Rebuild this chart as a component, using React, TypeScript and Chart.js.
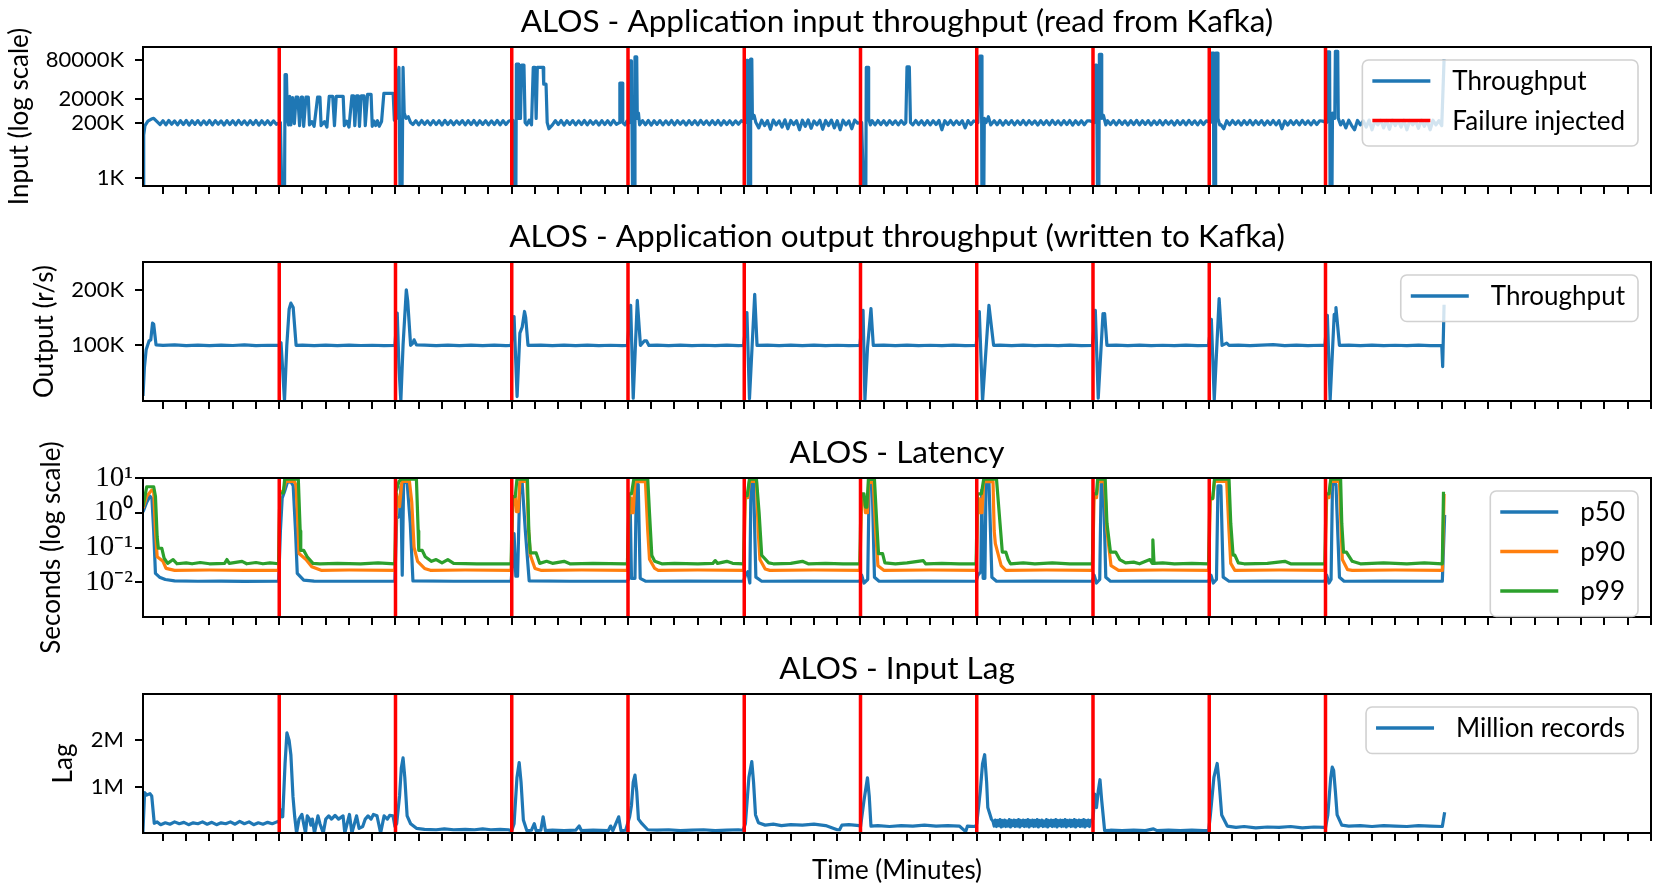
import React, { useEffect, useRef } from 'react';
import { Chart, registerables } from 'chart.js';

Chart.register(...registerables);
Chart.defaults.color = '#000';
Chart.defaults.font.family = 'Lato';

type Pt = [number, number];
interface BandSeg { start: number; step: number; values: number[]; }

// ---------------- data ----------------
const FAILURE_TIMES = [10, 20, 30, 40, 50, 60, 70, 80, 90, 100];
const X_TICKS = [0, 2, 4, 6, 8, 10, 12, 14, 16, 18, 20, 22, 24, 26, 28, 30, 32, 34, 36, 38, 40, 42, 44, 46, 48, 50, 52, 54, 56, 58, 60, 62, 64, 66, 68, 70, 72, 74, 76, 78, 80, 82, 84, 86, 88, 90, 92, 94, 96, 98, 100, 102, 104, 106, 108, 110, 112, 114, 116, 118, 120, 122, 124, 126, 128];

const INPUT_TICKS = [1, 200, 2000, 80000];
const INPUT_TICK_LABELS = ['1K', '200K', '2000K', '80000K'];
const OUTPUT_TICKS = [100, 200];
const OUTPUT_TICK_LABELS = ['100K', '200K'];
const LAT_TICKS = [0.01, 0.1, 1, 10];
const LAT_TICK_LABELS = ['10\u207B\u00B2', '10\u207B\u00B9', '10\u2070', '10\u00B9'];
const LAG_TICKS = [1, 2];
const LAG_TICK_LABELS = ['1M', '2M'];

// input throughput (thousands of records/s): recovery events after failures
const INPUT_EVENTS_K: Pt[] = [
  [-1.72, 0.05], [-1.66, 60], [-1.55, 150], [-1.3, 230], [-1.0, 280], [-0.8, 300], [-0.6, 240],
  [10.1, 200], [10.25, 0.05], [10.45, 0.05], [10.5, 20000], [10.62, 20000], [10.7, 300], [10.8, 160], [10.9, 2500], [11.0, 160], [11.15, 2200], [11.3, 180], [11.45, 2300], [11.6, 2300], [11.75, 150], [11.9, 2300], [12.0, 2300], [12.1, 140], [12.3, 2300], [12.5, 2300], [12.6, 160], [12.8, 220], [13.0, 140], [13.3, 2300], [13.5, 2300], [13.6, 150], [13.9, 220], [14.1, 130], [14.3, 2500], [14.6, 2500], [14.75, 150], [14.9, 2500], [15.5, 2500], [15.6, 150], [15.8, 230], [16.0, 130], [16.25, 2600], [16.4, 2600], [16.5, 150], [16.65, 2600], [16.8, 2600], [16.9, 140], [17.05, 2600], [17.3, 2600], [17.4, 150], [17.6, 3000], [17.9, 3000], [18.0, 140], [18.15, 230], [18.3, 150], [18.45, 240], [18.6, 140], [18.8, 220], [19.0, 3300], [19.8, 3300], [19.9, 250],
  [20.1, 300], [20.2, 20000], [20.3, 40000], [20.4, 0.05], [20.55, 0.05], [20.65, 40000], [20.75, 500], [20.9, 300], [21.1, 350], [21.3, 200],
  [30.1, 250], [30.2, 0.05], [30.35, 0.05], [30.4, 55000], [30.55, 55000], [30.6, 300], [30.75, 300], [30.85, 50000], [31.05, 50000], [31.15, 200], [31.3, 160], [31.5, 250], [31.7, 160], [31.85, 40000], [32.0, 40000], [32.1, 300], [32.2, 40000], [32.7, 40000], [32.75, 8000], [32.95, 8000], [33.05, 200], [33.2, 110],
  [39.25, 200], [39.3, 9000], [39.5, 9000], [39.55, 200], [39.75, 160], [39.9, 230],
  [40.1, 200], [40.15, 75000], [40.3, 75000], [40.4, 0.05], [40.55, 0.05], [40.6, 110000], [40.75, 110000], [40.8, 300], [40.9, 500], [41.0, 160],
  [50.1, 200], [50.2, 80000], [50.3, 80000], [50.35, 0.05], [50.5, 0.05], [50.55, 90000], [50.65, 90000], [50.7, 300], [50.85, 400], [51.0, 200],
  [60.1, 200], [60.3, 0.05], [60.45, 0.05], [60.5, 40000], [60.65, 40000], [60.7, 300], [60.85, 160],
  [63.9, 200], [64.0, 42000], [64.2, 42000], [64.3, 200],
  [70.1, 200], [70.25, 120000], [70.4, 120000], [70.45, 0.05], [70.6, 0.05], [70.65, 300], [70.8, 200], [71.0, 350], [71.2, 160],
  [80.1, 200], [80.2, 50000], [80.3, 50000], [80.4, 0.05], [80.5, 0.05], [80.55, 140000], [80.7, 140000], [80.75, 300], [80.9, 400], [81.1, 160],
  [90.1, 200], [90.2, 160000], [90.35, 160000], [90.4, 0.05], [90.5, 0.05], [90.55, 160000], [90.7, 160000], [90.75, 300], [90.9, 160],
  [100.1, 200], [100.15, 180000], [100.35, 180000], [100.4, 0.05], [100.55, 0.05], [100.6, 500], [100.8, 300], [100.85, 190000], [101.05, 190000], [101.1, 300], [101.3, 160],
  [110.2, 87000],
];
// input throughput (thousands of records/s): steady-state stretches, one reading every 0.25 min
const INPUT_STEADY_K: BandSeg[] = [
  { start: -0.25, step: 0.25, values: [165, 240, 160, 245, 170, 235, 160, 240, 165, 245, 158, 238, 168, 242, 160, 236, 165, 244, 160, 240, 170, 235, 158, 242, 165, 240, 160, 246, 168, 236, 160, 240, 165, 244, 158, 238, 166, 240, 162, 236, 170] },
  { start: 21.5, step: 0.25, values: [165, 240, 160, 244, 168, 236, 160, 242, 165, 238, 158, 245, 166, 240, 162, 236, 170, 242, 160, 240, 165, 244, 158, 238, 168, 240, 160, 236, 165, 245, 160, 240, 166, 232] },
  { start: 33.5, step: 0.25, values: [160, 240, 165, 244, 158, 238, 168, 242, 160, 236, 165, 244, 160, 240, 170, 235, 158, 242, 165, 240, 160, 246, 168] },
  { start: 41.25, step: 0.25, values: [240, 162, 244, 158, 238, 168, 242, 160, 236, 165, 244, 160, 240, 170, 235, 158, 242, 165, 240, 160, 246, 168, 236, 160, 240, 165, 244, 158, 238, 166, 240, 162, 236, 170, 240] },
  { start: 51.25, step: 0.25, values: [120, 250, 150, 240, 105, 255, 160, 235, 130, 260, 110, 245, 165, 240, 100, 250, 140, 260, 115, 235, 160, 250, 105, 245, 150, 255, 120, 240, 100, 250, 160, 235, 110, 255, 190] },
  { start: 61.0, step: 0.25, values: [240, 160, 244, 165, 238, 158, 242, 168, 236, 160, 240, 170] },
  { start: 64.5, step: 0.25, values: [160, 244, 165, 238, 158, 242, 160, 238, 165, 244, 100, 240, 165, 244, 160, 236, 168, 240, 120, 242, 165, 236] },
  { start: 71.5, step: 0.25, values: [240, 162, 244, 158, 238, 168, 242, 160, 236, 165, 244, 160, 240, 170, 235, 158, 242, 165, 240, 160, 246, 168, 236, 160, 240, 165, 244, 158, 238, 166, 240, 162, 236, 235] },
  { start: 81.25, step: 0.25, values: [238, 165, 242, 160, 244, 168, 236, 158, 240, 165, 246, 160, 238, 168, 242, 158, 236, 165, 244, 160, 240, 170, 235, 158, 242, 165, 240, 160, 246, 168, 236, 160, 240, 165, 238] },
  { start: 91.0, step: 0.25, values: [165, 110, 240, 160, 244, 168, 236, 158, 240, 165, 246, 160, 238, 168, 242, 158, 236, 165, 244, 160, 240, 110, 235, 158, 242, 165, 240, 160, 246, 168, 236, 160, 240, 165, 238, 230] },
  { start: 101.5, step: 0.25, values: [240, 120, 250, 150, 100, 245, 160, 235, 130, 255, 100, 240, 160, 250, 120, 245, 105, 255, 150, 240, 130, 250, 100, 245, 160, 235, 115, 255, 140, 240, 100, 250, 160, 240, 150] },
];

// output throughput, thousands of records/s
const OUTPUT_K: Pt[] = [
  [-1.72, 9], [-1.6, 60], [-1.45, 92], [-1.2, 108], [-1.05, 110], [-0.9, 140], [-0.8, 138], [-0.6, 101], [0, 100], [1, 100.8], [2, 99.5], [3, 100.5], [4, 99.6], [5, 100.4], [6, 99.8], [7, 100.9], [8, 99.5], [9, 100.3], [9.95, 100],
  [10.15, 105], [10.3, 55], [10.45, 0], [10.65, 100], [10.85, 165], [11.0, 176], [11.2, 168], [11.45, 100], [12, 100.5], [13, 99.6], [14, 100.4], [15, 99.5], [16, 100.6], [17, 99.8], [18, 100.3], [19, 99.6], [19.95, 100.2],
  [20.15, 158], [20.3, 60], [20.46, 0], [20.65, 100], [20.93, 200], [21.05, 180], [21.3, 100], [21.5, 104], [21.6, 110], [21.8, 101], [22.5, 100.6], [23.5, 99.6], [24.5, 100.4], [25.5, 99.5], [26.5, 100.5], [27.5, 99.7], [28.5, 100.4], [29.5, 99.6], [29.95, 100],
  [30.2, 152], [30.46, 8], [30.7, 122], [30.9, 133], [31.1, 161], [31.2, 150], [31.4, 100], [32.5, 100.5], [33.5, 99.6], [34.5, 100.4], [35.5, 99.7], [36.5, 100.6], [37.5, 99.5], [38.5, 100.3], [39.5, 99.7], [39.95, 100],
  [40.23, 172], [40.45, 5], [40.8, 181], [41.07, 100], [41.4, 108], [41.6, 108], [41.8, 100], [42.5, 100.4], [43.5, 99.6], [44.5, 100.5], [45.5, 99.7], [46.5, 100.3], [47.5, 99.6], [48.5, 100.4], [49.5, 99.7], [49.95, 100],
  [50.23, 159], [50.45, 4], [50.9, 192], [51.1, 100], [52, 100.5], [53, 99.6], [54, 100.4], [55, 99.5], [56, 100.6], [57, 99.7], [58, 100.3], [59, 99.6], [59.95, 100],
  [60.22, 163], [60.38, 2], [60.6, 95], [60.9, 166], [61.1, 100], [62, 100.4], [63, 99.6], [64, 100.5], [65, 99.7], [66, 100.3], [67, 99.5], [68, 100.4], [69, 99.7], [69.95, 100],
  [70.22, 161], [70.5, 0], [71.05, 172], [71.45, 100], [72, 100.4], [73, 99.6], [74, 100.5], [75, 99.7], [76, 100.3], [77, 99.5], [78, 100.4], [79, 99.7], [79.95, 100],
  [80.2, 163], [80.45, 5], [80.86, 157], [80.93, 145], [81.0, 157], [81.2, 100], [82, 100.4], [83, 99.6], [84, 100.5], [85, 99.7], [86, 100.3], [87, 99.5], [88, 100.4], [89, 99.7], [89.95, 100],
  [90.18, 147], [90.43, 2], [90.85, 184], [91.1, 100], [91.5, 104], [91.7, 100], [92.5, 100.4], [93.5, 99.6], [94.5, 100.5], [95.5, 101.5], [96.5, 99.6], [97.5, 100.4], [98.5, 99.7], [99.5, 100.3], [99.95, 100],
  [100.16, 154], [100.4, 2], [100.75, 156], [100.82, 145], [100.9, 168], [101.2, 100], [102, 100.4], [103, 99.6], [104, 100.5], [105, 99.7], [106, 100.3], [107, 99.5], [108, 100.4], [109, 99.7], [110.0, 100], [110.08, 62], [110.2, 173],
];

// latency percentiles, seconds
const LAT_P50: Pt[] = [
  [-1.72, 1.06], [-1.4, 2.0], [-1.12, 3.0], [-0.95, 2.5], [-0.8, 0.3], [-0.65, 0.018], [-0.3, 0.014], [0.2, 0.012], [1, 0.011], [3, 0.0107], [5, 0.0108], [7, 0.0106], [9.95, 0.0107],
  [10.1, 0.3], [10.25, 2.6], [10.45, 4], [10.7, 7.5], [11.0, 7.8], [11.2, 6], [11.4, 0.3], [11.55, 0.018], [12.1, 0.0115], [13, 0.0108], [16, 0.0107], [19.95, 0.0107],
  [20.1, 0.7], [20.35, 0.8], [20.46, 5.6], [20.58, 0.016], [20.7, 7.5], [21.0, 7.5], [21.27, 0.5], [21.5, 0.011], [25, 0.0107], [29.95, 0.0107],
  [30.1, 0.05], [30.2, 0.25], [30.35, 0.015], [30.5, 0.015], [30.7, 7], [30.9, 7], [31.17, 0.3], [31.5, 0.011], [35, 0.0107], [39.95, 0.0107],
  [40.1, 0.013], [40.2, 1.0], [40.3, 0.013], [40.6, 0.013], [40.72, 7.2], [40.88, 6.5], [41.05, 0.013], [41.5, 0.0107], [45, 0.0108], [49.95, 0.0107],
  [50.1, 0.016], [50.3, 0.02], [50.48, 0.0095], [50.58, 8], [50.8, 8], [51.0, 0.014], [51.5, 0.0107], [55, 0.0108], [59.95, 0.0107],
  [60.1, 0.016], [60.3, 0.0095], [60.62, 0.012], [60.75, 8], [61.0, 8], [61.2, 0.014], [61.6, 0.0107], [65, 0.0108], [69.95, 0.0107],
  [70.1, 0.016], [70.35, 0.02], [70.43, 4.5], [70.55, 0.013], [70.7, 0.013], [70.8, 8], [71.05, 8], [71.3, 0.014], [71.7, 0.0107], [75, 0.0108], [79.95, 0.0107],
  [80.1, 0.016], [80.3, 0.0095], [80.58, 0.012], [80.7, 6.6], [80.9, 6.6], [81.1, 0.014], [81.5, 0.0107], [85, 0.0108], [89.95, 0.0107],
  [90.15, 0.016], [90.35, 0.0095], [90.62, 0.012], [90.75, 5.9], [91.0, 5.9], [91.2, 0.014], [91.7, 0.0107], [95, 0.0108], [99.95, 0.0107],
  [100.1, 0.016], [100.3, 0.0095], [100.48, 0.012], [100.6, 6.6], [100.9, 6.6], [101.2, 0.014], [101.6, 0.0107], [105, 0.0108], [110.05, 0.0107], [110.25, 0.87],
];
const LAT_P90: Pt[] = [
  [-1.72, 1.35], [-1.4, 3.0], [-0.96, 4.5], [-0.8, 4.0], [-0.65, 0.3], [-0.5, 0.054], [0.0, 0.04], [0.26, 0.025], [1, 0.022], [4, 0.0225], [7, 0.022], [9.95, 0.022],
  [10.05, 4], [10.35, 4.2], [10.56, 8], [11.3, 8], [11.45, 6], [11.6, 0.5], [11.7, 0.067], [12.3, 0.045], [12.8, 0.028], [13.6, 0.022], [16, 0.0225], [19.95, 0.022],
  [20.1, 3.5], [20.35, 1.5], [20.55, 8], [21.2, 8], [21.4, 2], [21.6, 0.1], [21.9, 0.04], [22.5, 0.025], [23, 0.022], [26, 0.0225], [29.95, 0.022],
  [30.1, 2.9], [30.3, 2.9], [30.4, 1.07], [30.55, 1.07], [30.7, 8], [31.3, 8], [31.45, 0.3], [31.6, 0.06], [32.0, 0.025], [32.5, 0.022], [36, 0.0225], [39.95, 0.022],
  [40.1, 2.7], [40.25, 2.7], [40.3, 1.0], [40.45, 1.0], [40.6, 7.9], [41.5, 7.9], [41.7, 0.3], [41.85, 0.046], [42.3, 0.025], [42.6, 0.022], [46, 0.0225], [49.95, 0.022],
  [50.1, 2.7], [50.3, 2.7], [50.45, 8], [51.05, 8], [51.2, 0.3], [51.35, 0.045], [51.8, 0.024], [52.2, 0.022], [56, 0.0225], [59.95, 0.022],
  [60.1, 2.7], [60.3, 2.7], [60.43, 1.0], [60.6, 1.0], [60.7, 7.5], [61.1, 7.5], [61.3, 0.3], [61.5, 0.03], [62.0, 0.022], [66, 0.0225], [69.95, 0.022],
  [70.1, 2.5], [70.25, 2.5], [70.3, 1.0], [70.45, 1.0], [70.6, 7.9], [71.4, 7.9], [71.5, 0.3], [71.6, 0.13], [72.1, 0.03], [72.5, 0.022], [76, 0.0225], [79.95, 0.022],
  [80.1, 2.7], [80.3, 2.7], [80.45, 7.9], [81.0, 7.9], [81.2, 0.3], [81.55, 0.03], [82.2, 0.022], [86, 0.0225], [89.95, 0.022],
  [90.1, 2.5], [90.3, 2.5], [90.45, 8], [91.5, 8], [91.7, 0.3], [91.85, 0.035], [92.2, 0.022], [96, 0.0225], [99.95, 0.022],
  [100.1, 2.7], [100.3, 2.7], [100.45, 8], [101.2, 8], [101.35, 0.3], [101.45, 0.045], [101.9, 0.023], [102.3, 0.022], [106, 0.0225], [110.05, 0.022], [110.2, 3.5],
];
const LAT_P99: Pt[] = [
  [-1.72, 1.5], [-1.55, 3], [-1.4, 5.6], [-0.8, 5.6], [-0.65, 3], [-0.5, 0.2], [-0.4, 0.095], [-0.1, 0.095], [0.1, 0.049], [0.4, 0.035], [0.87, 0.045], [1.2, 0.034], [2, 0.036], [2.5, 0.034], [3.2, 0.037], [4, 0.034], [5.3, 0.035], [5.5, 0.045], [5.7, 0.035], [6.8, 0.04], [7.2, 0.034], [8, 0.037], [8.6, 0.034], [9.2, 0.036], [9.95, 0.034],
  [10.05, 3.7], [10.35, 3.7], [10.47, 9.3], [11.64, 9.3], [11.8, 0.3], [11.85, 0.083], [12.1, 0.083], [12.4, 0.054], [12.9, 0.035], [13.5, 0.034], [15, 0.035], [17, 0.034], [18.5, 0.036], [19.95, 0.034],
  [20.05, 4], [20.3, 8], [20.5, 9.3], [21.8, 9.3], [21.95, 0.3], [22.0, 0.083], [22.3, 0.083], [22.56, 0.054], [23.1, 0.04], [23.5, 0.045], [24, 0.036], [24.5, 0.045], [25, 0.035], [27, 0.034], [29.95, 0.034],
  [30.05, 2.9], [30.3, 2.9], [30.45, 9.3], [31.35, 9.3], [31.47, 0.3], [31.6, 0.07], [32.1, 0.07], [32.4, 0.035], [33, 0.04], [33.5, 0.035], [34.5, 0.04], [35, 0.034], [37, 0.035], [39.95, 0.034],
  [40.1, 3.5], [40.3, 3.5], [40.5, 9.3], [41.7, 9.3], [41.85, 0.98], [42.05, 0.059], [42.3, 0.04], [42.9, 0.034], [44, 0.035], [46, 0.034], [47.3, 0.035], [47.5, 0.042], [47.7, 0.035], [48.5, 0.04], [49, 0.035], [49.95, 0.034],
  [50.05, 3.1], [50.25, 3.1], [50.45, 9.3], [51.05, 9.3], [51.28, 0.98], [51.5, 0.06], [52.1, 0.036], [52.5, 0.034], [54, 0.035], [55, 0.04], [55.5, 0.034], [57, 0.035], [58.5, 0.034], [59.95, 0.034],
  [60.05, 3.5], [60.3, 3.5], [60.43, 1.45], [60.55, 1.45], [60.68, 9.3], [61.2, 9.3], [61.4, 0.5], [61.55, 0.067], [61.9, 0.067], [62.1, 0.036], [63, 0.034], [64, 0.036], [65.4, 0.042], [65.6, 0.034], [67, 0.035], [68.5, 0.034], [69.95, 0.034],
  [70.05, 3.5], [70.4, 3.5], [70.6, 9.3], [71.7, 9.3], [72.0, 0.5], [72.2, 0.074], [72.5, 0.074], [72.7, 0.045], [72.9, 0.034], [74, 0.036], [75, 0.034], [76.5, 0.036], [78, 0.034], [79.95, 0.034],
  [80.05, 3.5], [80.3, 3.5], [80.4, 9.3], [81.05, 9.3], [81.2, 0.5], [81.5, 0.074], [81.95, 0.074], [82.3, 0.045], [82.8, 0.036], [83.5, 0.038], [84, 0.034], [84.9, 0.045], [85.1, 0.035], [85.15, 0.166], [85.25, 0.035], [86, 0.036], [87, 0.034], [88.5, 0.035], [89.95, 0.034],
  [90.05, 2.6], [90.3, 2.6], [90.45, 9.3], [91.7, 9.3], [91.85, 0.5], [92.05, 0.06], [92.2, 0.06], [92.5, 0.036], [93, 0.034], [95, 0.035], [96.5, 0.04], [97, 0.034], [99.95, 0.034],
  [100.05, 3.5], [100.3, 3.5], [100.45, 9.3], [101.3, 9.3], [101.4, 0.5], [101.55, 0.074], [101.8, 0.074], [102.3, 0.04], [103, 0.034], [105, 0.036], [107, 0.034], [108.5, 0.036], [110.05, 0.034], [110.15, 4],
];

// input lag, million records
const LAG_M: Pt[] = [
  [-1.73, 0], [-1.58, 0.87], [-1.4, 0.82], [-1.12, 0.85], [-0.97, 0.8], [-0.75, 0.21], [-0.5, 0.24], [-0.2, 0.18], [0.2, 0.22], [0.6, 0.19], [1, 0.24], [1.4, 0.2], [1.8, 0.23], [2.2, 0.18], [2.6, 0.22], [3, 0.2], [3.4, 0.24], [3.8, 0.19], [4.2, 0.23], [4.6, 0.18], [5, 0.22], [5.4, 0.2], [5.8, 0.24], [6.2, 0.19], [6.6, 0.25], [7, 0.2], [7.4, 0.24], [7.8, 0.18], [8.2, 0.22], [8.6, 0.19], [9, 0.23], [9.4, 0.2], [9.8, 0.24],
  [10.0, 0.25], [10.15, 0.5], [10.3, 0.35], [10.5, 1.5], [10.66, 2.16], [10.85, 2.0], [11.0, 1.69], [11.18, 0.79], [11.33, 0.35], [11.49, 0], [11.7, 0.3], [11.95, 0.4], [12.1, 0.2], [12.26, 0], [12.41, 0.37], [12.6, 0.3], [12.72, 0.17], [12.85, 0.3], [13.03, 0], [13.33, 0.37], [13.5, 0.2], [13.79, 0], [14.0, 0.3], [14.26, 0.37], [14.5, 0.3], [14.8, 0.38], [15.1, 0.3], [15.49, 0.37], [15.64, 0], [16.04, 0.4], [16.25, 0], [16.65, 0.37], [16.87, 0.1], [17.18, 0.14], [17.4, 0.3], [17.64, 0.37], [17.9, 0.3], [18.1, 0.4], [18.41, 0.37], [18.72, 0], [19.02, 0.37], [19.3, 0.3], [19.5, 0.38], [19.79, 0.37], [19.95, 0.14],
  [20.1, 0.2], [20.35, 0.8], [20.5, 1.4], [20.65, 1.62], [20.8, 1.2], [21.0, 0.37], [21.3, 0.2], [21.8, 0.1], [22.5, 0.08], [23.5, 0.07], [24.2, 0.09], [25, 0.07], [26, 0.08], [26.8, 0.07], [27.5, 0.09], [28.2, 0.07], [29, 0.08], [29.7, 0.07],
  [30.0, 0.05], [30.2, 0.2], [30.45, 1.2], [30.64, 1.52], [30.8, 1.1], [31.0, 0.28], [31.3, 0.05], [31.7, 0.06], [31.94, 0.2], [32.1, 0.05], [32.5, 0.06], [32.7, 0.35], [32.9, 0.05], [33.5, 0.06], [34.5, 0.05], [35.5, 0.06], [35.8, 0.15], [36.0, 0.05], [37, 0.06], [38.3, 0.05], [38.5, 0.15], [38.7, 0.05], [39.2, 0.35], [39.4, 0.05], [39.8, 0.06],
  [40.14, 0.35], [40.3, 0.6], [40.45, 1.1], [40.6, 1.25], [40.75, 0.9], [40.9, 0.3], [41.2, 0.2], [41.7, 0.07], [42.5, 0.06], [43.5, 0.07], [44.5, 0.05], [45.5, 0.06], [46.5, 0.07], [47.5, 0.05], [48.5, 0.06], [49.5, 0.07], [49.9, 0.06],
  [50.1, 0.2], [50.4, 1.2], [50.65, 1.54], [50.8, 1.1], [50.97, 0.39], [51.22, 0.22], [51.8, 0.17], [52.5, 0.19], [53.2, 0.16], [54, 0.18], [55, 0.17], [56, 0.19], [57, 0.16], [58.0, 0.07], [58.2, 0.07], [58.4, 0.17], [59, 0.18], [59.9, 0.16],
  [60.0, 0.13], [60.3, 0.7], [60.6, 1.19], [60.75, 0.8], [60.9, 0.15], [61.5, 0.16], [62.5, 0.14], [63.5, 0.16], [64.5, 0.15], [65.5, 0.17], [66.5, 0.15], [67.5, 0.16], [68.5, 0.15], [69.05, 0.03], [69.2, 0.15], [69.9, 0.14],
  [70.0, 0.2], [70.3, 0.9], [70.5, 1.5], [70.68, 1.69], [70.85, 1.1], [70.95, 0.55], [71.26, 0.3], [71.4, 0.25], [71.5, 0.15], [71.6, 0.28], [71.7, 0.14], [71.8, 0.27], [71.9, 0.16], [72.0, 0.29], [72.1, 0.13], [72.2, 0.27], [72.3, 0.15], [72.4, 0.28], [72.5, 0.14], [72.6, 0.26], [72.7, 0.15], [72.8, 0.29], [72.9, 0.13], [73.0, 0.27], [73.1, 0.16], [73.2, 0.28], [73.3, 0.14], [73.4, 0.27], [73.5, 0.15], [73.6, 0.29], [73.7, 0.13], [73.8, 0.27], [73.9, 0.16], [74.0, 0.28], [74.1, 0.14], [74.2, 0.27], [74.3, 0.15], [74.4, 0.29], [74.5, 0.13], [74.6, 0.27], [74.7, 0.16], [74.8, 0.28], [74.9, 0.14], [75.0, 0.27], [75.1, 0.15], [75.2, 0.29], [75.3, 0.13], [75.4, 0.27], [75.5, 0.16], [75.6, 0.28], [75.7, 0.14], [75.8, 0.26], [75.9, 0.15], [76.0, 0.29], [76.1, 0.13], [76.2, 0.27], [76.3, 0.16], [76.4, 0.28], [76.5, 0.14], [76.6, 0.27], [76.7, 0.15], [76.8, 0.29], [76.9, 0.13], [77.0, 0.27], [77.1, 0.16], [77.2, 0.28], [77.3, 0.14], [77.4, 0.27], [77.5, 0.15], [77.6, 0.29], [77.7, 0.13], [77.8, 0.27], [77.9, 0.16], [78.0, 0.28], [78.1, 0.14], [78.2, 0.27], [78.3, 0.15], [78.4, 0.29], [78.5, 0.13], [78.6, 0.27], [78.7, 0.16], [78.8, 0.28], [78.9, 0.14], [79.0, 0.27], [79.1, 0.15], [79.2, 0.29], [79.3, 0.13], [79.4, 0.27], [79.5, 0.16], [79.6, 0.28], [79.7, 0.14], [79.8, 0.27], [79.9, 0.28],
  [80.0, 0.3], [80.15, 0.84], [80.3, 0.55], [80.45, 0.9], [80.6, 1.15], [80.75, 0.7], [81.0, 0.05], [81.5, 0.06], [82.5, 0.05], [83.5, 0.06], [84.5, 0.05], [85.2, 0.09], [85.5, 0.05], [86.5, 0.06], [87.5, 0.05], [88.5, 0.06], [89.5, 0.05], [89.95, 0.05],
  [90.1, 0.39], [90.4, 1.2], [90.68, 1.5], [90.85, 1.1], [91.07, 0.39], [91.55, 0.15], [92.3, 0.12], [93, 0.14], [94, 0.11], [95, 0.13], [96, 0.12], [97, 0.14], [98, 0.11], [99, 0.13], [99.9, 0.12],
  [100.0, 0.11], [100.2, 0.39], [100.45, 1.2], [100.58, 1.42], [100.7, 1.35], [100.85, 0.9], [101.0, 0.39], [101.4, 0.17], [102, 0.15], [103, 0.16], [104, 0.14], [105, 0.16], [106, 0.15], [107, 0.14], [108, 0.16], [109, 0.15], [110.05, 0.14], [110.25, 0.45],
];

// merge the event readings and the steady-state readings of the input series in time order
function mergeReadings(events: Pt[], steady: BandSeg[]): Pt[] {
  const all: Pt[] = events.slice();
  steady.forEach((seg) => seg.values.forEach((v, i) => all.push([seg.start + i * seg.step, v])));
  return all.sort((a, b) => a[0] - b[0]);
}
const INPUT_K: Pt[] = mergeReadings(INPUT_EVENTS_K, INPUT_STEADY_K);

// ---------------- layout / style ----------------
const W = 1661;
const X_MIN = -1.72;
const X_MAX = 128;
const BLUE = '#1f77b4';
const ORANGE = '#ff7f0e';
const GREEN = '#2ca02c';
const RED = '#ff0000';

interface SeriesSpec { label: string; color: string; data: Pt[]; order: number; }
interface PanelSpec {
  key: string; top: number; plotHeight: number; xAxisHeight: number; extraBottom: number;
  title: string; yTitle: string; yTitleCenter: number;
  yType: 'linear' | 'logarithmic'; yMin: number; yMax: number;
  yTicks: number[]; yTickLabels: string[]; tickFont: any; tickPadding: number;
  series: SeriesSpec[]; legend: string[]; xTitle?: string;
}

const TITLE_BOX = 44;
const TITLE_SIZE = 31.5;
const LATO_TICK = { family: 'Lato', size: 22 };

const PANELS: PanelSpec[] = [
  {
    key: 'input', top: 3, plotHeight: 139, xAxisHeight: 14, extraBottom: 30,
    title: 'ALOS - Application input throughput (read from Kafka)',
    yTitle: 'Input (log scale)', yTitleCenter: 20,
    yType: 'logarithmic', yMin: 0.45, yMax: 286000,
    yTicks: INPUT_TICKS, yTickLabels: INPUT_TICK_LABELS, tickFont: LATO_TICK, tickPadding: 11,
    series: [{ label: 'Throughput', color: BLUE, data: INPUT_K, order: 1 }],
    legend: ['Throughput', 'Failure injected'],
  },
  {
    key: 'output', top: 218, plotHeight: 139, xAxisHeight: 14, extraBottom: 30,
    title: 'ALOS - Application output throughput (written to Kafka)',
    yTitle: 'Output (r/s)', yTitleCenter: 45,
    yType: 'linear', yMin: 0, yMax: 250,
    yTicks: OUTPUT_TICKS, yTickLabels: OUTPUT_TICK_LABELS, tickFont: LATO_TICK, tickPadding: 11,
    series: [{ label: 'Throughput', color: BLUE, data: OUTPUT_K, order: 1 }],
    legend: ['Throughput'],
  },
  {
    key: 'latency', top: 434, plotHeight: 139, xAxisHeight: 14, extraBottom: 40,
    title: 'ALOS - Latency',
    yTitle: 'Seconds (log scale)', yTitleCenter: 52,
    yType: 'logarithmic', yMin: 0.001, yMax: 10,
    yTicks: LAT_TICKS, yTickLabels: LAT_TICK_LABELS, tickFont: { family: 'Liberation Serif', size: 29 }, tickPadding: 2,
    series: [
      { label: 'p50', color: BLUE, data: LAT_P50, order: 3 },
      { label: 'p90', color: ORANGE, data: LAT_P90, order: 2 },
      { label: 'p99', color: GREEN, data: LAT_P99, order: 1 },
    ],
    legend: ['p50', 'p90', 'p99'],
  },
  {
    key: 'lag', top: 650, plotHeight: 139, xAxisHeight: 60, extraBottom: 0,
    title: 'ALOS - Input Lag',
    yTitle: 'Lag', yTitleCenter: 64,
    yType: 'linear', yMin: 0, yMax: 3,
    yTicks: LAG_TICKS, yTickLabels: LAG_TICK_LABELS, tickFont: LATO_TICK, tickPadding: 11,
    series: [{ label: 'Million records', color: BLUE, data: LAG_M, order: 1 }],
    legend: ['Million records'],
    xTitle: 'Time (Minutes)',
  },
];

const framePlugin = {
  id: 'mplFrame',
  afterDatasetsDraw(chart: any) {
    const { ctx, chartArea } = chart;
    ctx.save();
    ctx.strokeStyle = '#000';
    ctx.lineWidth = 2;
    ctx.strokeRect(chartArea.left, chartArea.top, chartArea.right - chartArea.left, chartArea.bottom - chartArea.top);
    ctx.restore();
  },
};

function makeLegendPlugin(labels: string[]) {
  return {
    id: 'mplLegend',
    afterDraw(chart: any) {
      const { ctx, chartArea } = chart;
      const items = labels.map((lab) => {
        const ds = chart.data.datasets.find((d: any) => d.label === lab);
        return { label: lab, color: ds ? ds.borderColor : '#000' };
      });
      ctx.save();
      ctx.font = '26px Lato';
      const textW = Math.max(...items.map((it) => ctx.measureText(it.label).width));
      const padL = 10, handle = 58, gap = 22, padR = 13;
      const rowTop = 21, rowGap = 39.5, padBottom = 25.5;
      const w = padL + handle + gap + textW + padR;
      const h = rowTop + rowGap * (items.length - 1) + padBottom;
      const right = chartArea.right - 13;
      const top = chartArea.top + 13;
      const left = right - w;
      const r = 6;
      ctx.beginPath();
      ctx.moveTo(left + r, top);
      ctx.lineTo(right - r, top);
      ctx.arcTo(right, top, right, top + r, r);
      ctx.lineTo(right, top + h - r);
      ctx.arcTo(right, top + h, right - r, top + h, r);
      ctx.lineTo(left + r, top + h);
      ctx.arcTo(left, top + h, left, top + h - r, r);
      ctx.lineTo(left, top + r);
      ctx.arcTo(left, top, left + r, top, r);
      ctx.closePath();
      ctx.fillStyle = 'rgba(255,255,255,0.8)';
      ctx.fill();
      ctx.strokeStyle = 'rgba(204,204,204,0.9)';
      ctx.lineWidth = 1.6;
      ctx.stroke();
      items.forEach((it, i) => {
        const y = top + rowTop + rowGap * i;
        ctx.strokeStyle = it.color;
        ctx.lineWidth = 3.3;
        ctx.lineCap = 'butt';
        ctx.beginPath();
        ctx.moveTo(left + padL, y);
        ctx.lineTo(left + padL + handle, y);
        ctx.stroke();
        ctx.fillStyle = '#000';
        ctx.textAlign = 'left';
        ctx.textBaseline = 'middle';
        ctx.fillText(it.label, left + padL + handle + gap, y + 1);
      });
      ctx.restore();
    },
  };
}

function PanelChart({ spec }: { spec: PanelSpec }) {
  const ref = useRef<HTMLCanvasElement>(null);
  const height = TITLE_BOX + spec.plotHeight + spec.xAxisHeight + spec.extraBottom;
  useEffect(() => {
    const canvas = ref.current;
    if (!canvas) return;
    const isLog = spec.yType === 'logarithmic';
    const lo = isLog ? spec.yMin / 100 : spec.yMin - (spec.yMax - spec.yMin);
    const hi = isLog ? spec.yMax * 100 : spec.yMax + (spec.yMax - spec.yMin);
    const failureData: any[] = [];
    FAILURE_TIMES.forEach((t) => {
      failureData.push({ x: t, y: lo }, { x: t, y: hi }, { x: t, y: null });
    });
    const datasets: any[] = spec.series.map((s) => ({
      label: s.label,
      data: s.data.map(([x, y]) => ({ x, y })),
      borderColor: s.color,
      backgroundColor: s.color,
      borderWidth: 3.2,
      pointRadius: 0,
      tension: 0,
      fill: false,
      borderJoinStyle: 'round',
      borderCapStyle: 'butt',
      clip: 0,
      order: s.order,
    }));
    datasets.push({
      label: 'Failure injected',
      data: failureData,
      borderColor: RED,
      backgroundColor: RED,
      borderWidth: 3.5,
      pointRadius: 0,
      tension: 0,
      fill: false,
      spanGaps: false,
      clip: 0,
      order: 0,
    });

    const xScale: any = {
      type: 'linear',
      min: X_MIN,
      max: X_MAX,
      afterBuildTicks: (s: any) => { s.ticks = X_TICKS.map((v) => ({ value: v })); },
      ticks: { callback: () => '', autoSkip: false, maxRotation: 0, font: { size: 10 } },
      grid: { drawOnChartArea: false, drawTicks: true, tickLength: 8, tickColor: '#000', tickWidth: 2, color: '#000', lineWidth: 2 },
      border: { display: false },
      afterFit: (s: any) => {
        s.height = spec.xAxisHeight;
        s.paddingLeft = 0; s.paddingRight = 0; s.paddingTop = 0; s.paddingBottom = 0;
      },
    };
    if (spec.xTitle) {
      xScale.title = {
        display: true,
        text: spec.xTitle,
        color: '#000',
        font: { family: 'Lato', size: 26, weight: 'normal' },
        padding: { top: 0, bottom: 6.4 },
      };
    }

    const chart = new Chart(canvas, {
      type: 'line',
      data: { datasets },
      options: {
        responsive: false,
        animation: false,
        devicePixelRatio: 1,
        events: [],
        layout: { padding: { left: 0, right: 10, top: 0, bottom: spec.extraBottom } },
        plugins: {
          legend: { display: false },
          tooltip: { enabled: false },
          title: {
            display: true,
            fullSize: false,
            text: spec.title,
            color: '#000',
            font: { family: 'Lato', size: TITLE_SIZE, weight: 'normal', lineHeight: 1.2 },
            padding: { top: 0, bottom: TITLE_BOX - TITLE_SIZE * 1.2 },
          },
        },
        scales: {
          x: xScale,
          y: {
            type: spec.yType,
            position: 'left',
            min: spec.yMin,
            max: spec.yMax,
            afterBuildTicks: (s: any) => { s.ticks = spec.yTicks.map((v) => ({ value: v })); },
            ticks: {
              autoSkip: false,
              padding: spec.tickPadding,
              color: '#000',
              font: spec.tickFont,
              callback: (_v: any, i: number) => spec.yTickLabels[i],
            },
            grid: { drawOnChartArea: false, drawTicks: true, tickLength: 8, tickColor: '#000', tickWidth: 2, color: '#000', lineWidth: 2 },
            border: { display: false },
            title: {
              display: true,
              text: spec.yTitle,
              color: '#000',
              font: { family: 'Lato', size: 26, weight: 'normal', lineHeight: 1.2 },
              padding: { top: spec.yTitleCenter - 15.6, bottom: 0 },
            },
            afterFit: (s: any) => {
              s.width = 143;
              s.paddingTop = 0; s.paddingBottom = 0; s.paddingLeft = 0; s.paddingRight = 0;
            },
          } as any,
        },
      } as any,
      plugins: [framePlugin, makeLegendPlugin(spec.legend)],
    });
    return () => chart.destroy();
  }, [spec]);
  return (
    <canvas
      ref={ref}
      width={W}
      height={height}
      style={{ position: 'absolute', left: 0, top: spec.top, width: W, height }}
    />
  );
}

export default function App() {
  return (
    <div style={{ position: 'fixed', left: 0, top: 0, width: W, height: 894, background: '#fff', overflow: 'hidden' }}>
      {PANELS.map((p) => <PanelChart key={p.key} spec={p} />)}
    </div>
  );
}
